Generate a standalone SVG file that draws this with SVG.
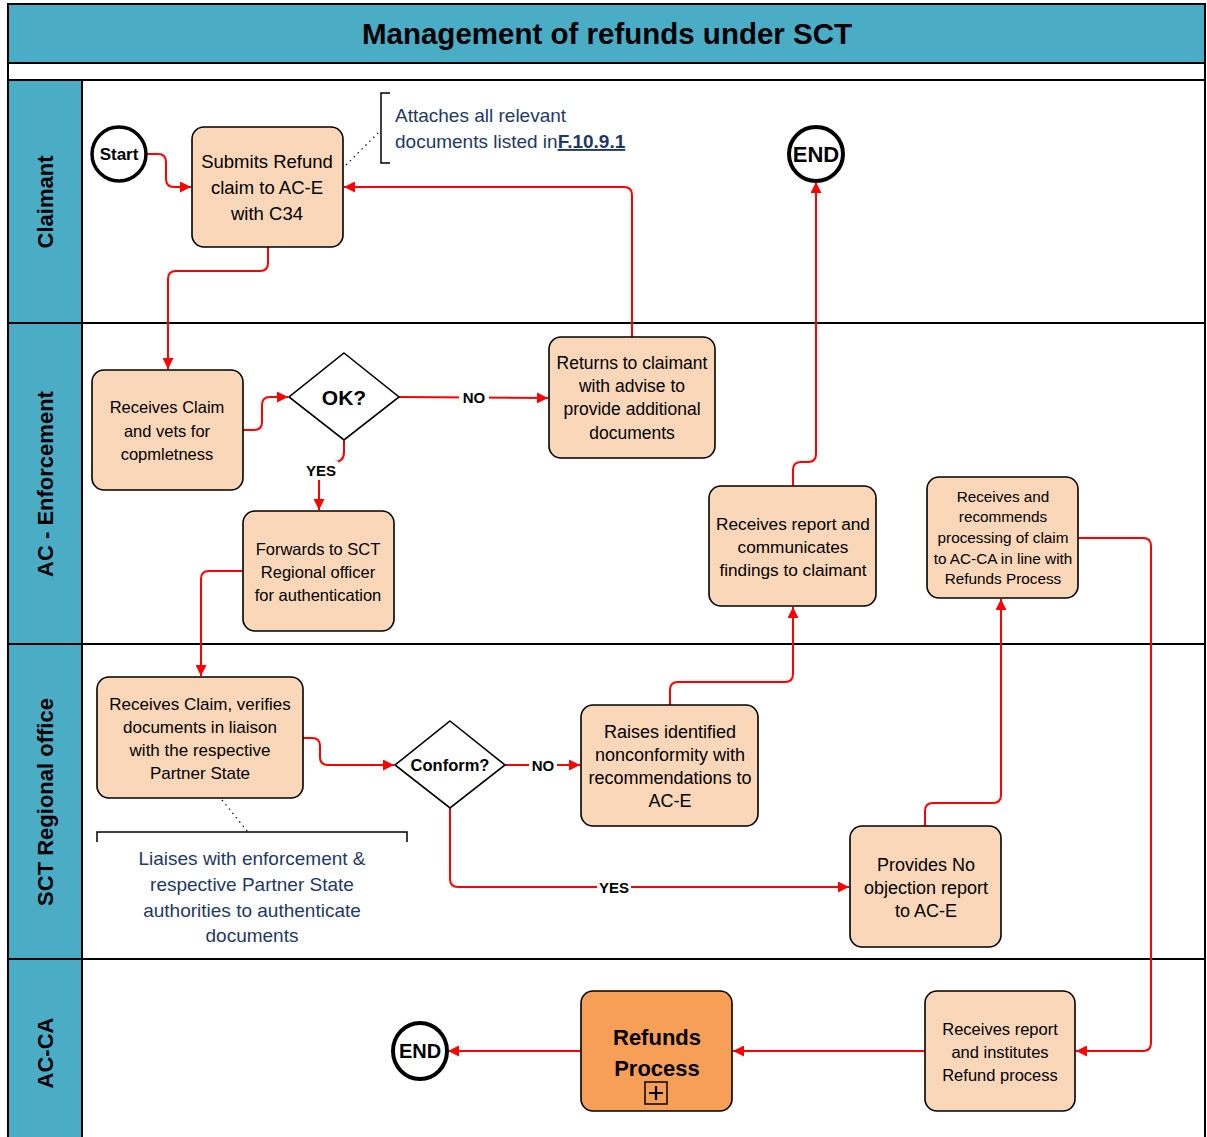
<svg xmlns="http://www.w3.org/2000/svg" width="1207" height="1137" viewBox="0 0 1207 1137">
<defs>
<marker id="arr" viewBox="0 0 10 10" refX="10" refY="5" markerWidth="11" markerHeight="11" markerUnits="userSpaceOnUse" orient="auto"><path d="M0,0 L10,5 L0,10 z" fill="#FF0000"/></marker>
<style>
.lane{fill:#4BACC6;stroke:#000;stroke-width:2}
.sep{stroke:#000;stroke-width:2}
.lt{font-family:"Liberation Sans",Arial,sans-serif;font-weight:bold;font-size:22px;fill:#000;text-anchor:middle}
.box{fill:#FBD7B9;stroke:#000;stroke-width:1.6}
.t{font-family:"Liberation Sans",Arial,sans-serif;font-size:16.5px;fill:#000;text-anchor:middle}
.ts{font-family:"Liberation Sans",Arial,sans-serif;font-size:15.3px;fill:#000;text-anchor:middle}
.b{font-weight:bold}
.ev{fill:#fff;stroke:#000;stroke-width:4}
.dia{fill:#fff;stroke:#000;stroke-width:1.6}
.c{fill:none;stroke:#FF0000;stroke-width:2;marker-end:url(#arr)}
.lbl{font-family:"Liberation Sans",Arial,sans-serif;font-weight:bold;font-size:15px;fill:#000;text-anchor:middle}
.ann{font-family:"Liberation Sans",Arial,sans-serif;font-size:19px;fill:#1F3864}
.dot{fill:none;stroke:#000;stroke-width:1.2;stroke-dasharray:1.5 4}
</style>
</defs>
<rect x="0" y="0" width="1207" height="1137" fill="#fff"/>
<g id="pool">
<rect x="8" y="4" width="1197" height="1140" fill="#fff" stroke="#000" stroke-width="2"/>
<rect x="8" y="4" width="1197" height="59" class="lane"/>
<text x="607" y="44" font-family="'Liberation Sans',Arial,sans-serif" font-weight="bold" font-size="29.5" text-anchor="middle">Management of refunds under SCT</text>
<line x1="8" y1="80" x2="1205" y2="80" class="sep"/>
<rect x="8" y="80" width="74" height="1064" class="lane"/>
<line x1="8" y1="323" x2="1205" y2="323" class="sep"/>
<line x1="8" y1="644" x2="1205" y2="644" class="sep"/>
<line x1="8" y1="959" x2="1205" y2="959" class="sep"/>
<text class="lt" transform="translate(53,202) rotate(-90)">Claimant</text>
<text class="lt" transform="translate(53,484) rotate(-90)">AC - Enforcement</text>
<text class="lt" transform="translate(53,802) rotate(-90)">SCT Regional office</text>
<text class="lt" transform="translate(53,1053) rotate(-90)">AC-CA</text>
</g>
<g id="connectors">
<path class="c" d="M147,154 H158 Q166,154 166,162 V179 Q166,187 174,187 H191"/>
<path class="c" d="M268,247 V263 Q268,271 260,271 H176 Q168,271 168,279 V369"/>
<path class="c" d="M243,430 H254 Q262,430 262,422 V405 Q262,397 270,397 H288"/>
<path class="c" d="M399,397 L548,398"/>
<path class="c" d="M344,440 V452 Q344,462 334,462 H327 Q319,462 319,470 V510"/>
<path class="c" d="M243,571 H209 Q201,571 201,579 V676"/>
<path class="c" d="M303,738 H312 Q320,738 320,746 V757 Q320,765 328,765 H394"/>
<path class="c" d="M505,765 H580"/>
<path class="c" d="M450,808 V879 Q450,887 458,887 H849"/>
<path class="c" d="M670,705 V690 Q670,682 678,682 H785 Q793,682 793,674 V607"/>
<path class="c" d="M793,486 V470 Q793,462 801,462 H808 Q816,462 816,454 V182"/>
<path class="c" d="M632,337 V195 Q632,187 624,187 H344"/>
<path class="c" d="M925,826 V811 Q925,803 933,803 H993 Q1001,803 1001,795 V599"/>
<path class="c" d="M1078,538 H1143 Q1151,538 1151,546 V1043 Q1151,1051 1143,1051 H1076"/>
<path class="c" d="M925,1051 H733"/>
<path class="c" d="M581,1051 H448"/>
<rect x="459" y="389" width="30" height="18" fill="#fff"/>
<text class="lbl" x="474" y="403">NO</text>
<rect x="304" y="461" width="34" height="19" fill="#fff"/>
<text class="lbl" x="321" y="476">YES</text>
<rect x="529" y="757" width="28" height="18" fill="#fff"/>
<text class="lbl" x="543" y="771">NO</text>
<rect x="597" y="878" width="34" height="18" fill="#fff"/>
<text class="lbl" x="614" y="893">YES</text>
</g>
<g id="start">
<circle cx="119" cy="154" r="27" class="ev" style="stroke-width:3.5"/>
<text x="119" y="160" class="t b" style="font-size:17px">Start</text>
</g>
<g id="submits">
<rect x="192" y="127" width="151" height="120" rx="12" class="box"/>
<text class="t" x="267" y="168" style="font-size:18.5px">Submits Refund</text>
<text class="t" x="267" y="194" style="font-size:18.5px">claim to AC-E</text>
<text class="t" x="267" y="220" style="font-size:18.5px">with C34</text>
</g>
<g id="ann-attach">
<path d="M390,93 H381 V163 H390" fill="none" stroke="#000" stroke-width="1.5"/>
<path class="dot" d="M346,165 L381,130"/>
<text class="ann" x="395" y="122">Attaches all relevant</text>
<text class="ann" x="395" y="148">documents listed in<tspan font-weight="bold" text-decoration="underline">F.10.9.1</tspan></text>
</g>
<g id="end-top">
<circle cx="816" cy="154" r="27" class="ev"/>
<text x="816" y="162" class="t b" style="font-size:22px">END</text>
</g>
<g id="receives-claim">
<rect x="92" y="370" width="151" height="120" rx="12" class="box"/>
<text class="t" x="167" y="413">Receives Claim</text>
<text class="t" x="167" y="437">and vets for</text>
<text class="t" x="167" y="460">copmletness</text>
</g>
<g id="ok">
<path d="M344,353 L399,397 L344,440 L289,397 Z" class="dia"/>
<text x="344" y="405" class="t b" style="font-size:21px">OK?</text>
</g>
<g id="returns">
<rect x="549" y="337" width="166" height="121" rx="12" class="box"/>
<text class="t" x="632" y="369" style="font-size:17.5px">Returns to claimant</text>
<text class="t" x="632" y="392" style="font-size:17.5px">with advise to</text>
<text class="t" x="632" y="415" style="font-size:17.5px">provide additional</text>
<text class="t" x="632" y="439" style="font-size:17.5px">documents</text>
</g>
<g id="forwards">
<rect x="243" y="511" width="151" height="120" rx="12" class="box"/>
<text class="t" x="318" y="555">Forwards to SCT</text>
<text class="t" x="318" y="578">Regional officer</text>
<text class="t" x="318" y="601">for authentication</text>
</g>
<g id="receives-report">
<rect x="709" y="486" width="167" height="120" rx="12" class="box"/>
<text class="t" x="793" y="530" style="font-size:17.2px">Receives report and</text>
<text class="t" x="793" y="553" style="font-size:17.2px">communicates</text>
<text class="t" x="793" y="576" style="font-size:17.2px">findings to claimant</text>
</g>
<g id="recommends">
<rect x="927" y="477" width="151" height="121" rx="12" class="box"/>
<text class="ts" x="1003" y="502">Receives and</text>
<text class="ts" x="1003" y="522">recommends</text>
<text class="ts" x="1003" y="543">processing of claim</text>
<text class="ts" x="1003" y="564">to AC-CA in line with</text>
<text class="ts" x="1003" y="584">Refunds Process</text>
</g>
<g id="verifies">
<rect x="97" y="677" width="206" height="121" rx="12" class="box"/>
<text class="t" x="200" y="710" style="font-size:17px">Receives Claim, verifies</text>
<text class="t" x="200" y="733" style="font-size:17px">documents in liaison</text>
<text class="t" x="200" y="756" style="font-size:17px">with the respective</text>
<text class="t" x="200" y="779" style="font-size:17px">Partner State</text>
</g>
<g id="conform">
<path d="M450,721 L505,765 L450,808 L395,765 Z" class="dia"/>
<text x="450" y="771" class="t b">Conform?</text>
</g>
<g id="raises">
<rect x="581" y="705" width="177" height="121" rx="12" class="box"/>
<text class="t" x="670" y="738" style="font-size:18px">Raises identified</text>
<text class="t" x="670" y="761" style="font-size:18px">nonconformity with</text>
<text class="t" x="670" y="784" style="font-size:18px">recommendations to</text>
<text class="t" x="670" y="807" style="font-size:18px">AC-E</text>
</g>
<g id="ann-liaises">
<path d="M97,842 V832 H407 V842" fill="none" stroke="#000" stroke-width="1.5"/>
<path class="dot" d="M222,800 L248,832"/>
<text class="ann" x="252" y="865" text-anchor="middle">Liaises with enforcement &amp;</text>
<text class="ann" x="252" y="891" text-anchor="middle">respective Partner State</text>
<text class="ann" x="252" y="917" text-anchor="middle">authorities to authenticate</text>
<text class="ann" x="252" y="942" text-anchor="middle">documents</text>
</g>
<g id="provides">
<rect x="850" y="826" width="151" height="121" rx="12" class="box"/>
<text class="t" x="926" y="871" style="font-size:18px">Provides No</text>
<text class="t" x="926" y="894" style="font-size:18px">objection report</text>
<text class="t" x="926" y="917" style="font-size:18px">to AC-E</text>
</g>
<g id="refunds-process">
<rect x="581" y="991" width="151" height="120" rx="12" fill="#F79F57" stroke="#000" stroke-width="1.6"/>
<text class="t b" x="657" y="1045" style="font-size:22px">Refunds</text>
<text class="t b" x="657" y="1076" style="font-size:22px">Process</text>
<rect x="645" y="1082" width="22" height="22" fill="none" stroke="#000" stroke-width="1.5"/>
<path d="M656,1086 V1100 M649,1093 H663" stroke="#000" stroke-width="2.2"/>
</g>
<g id="institutes">
<rect x="925" y="991" width="150" height="120" rx="12" class="box"/>
<text class="t" x="1000" y="1035">Receives report</text>
<text class="t" x="1000" y="1058">and institutes</text>
<text class="t" x="1000" y="1081">Refund process</text>
</g>
<g id="end-bottom">
<ellipse cx="420" cy="1051" rx="27" ry="28" class="ev"/>
<text x="420" y="1058" class="t b" style="font-size:20px">END</text>
</g>
</svg>
